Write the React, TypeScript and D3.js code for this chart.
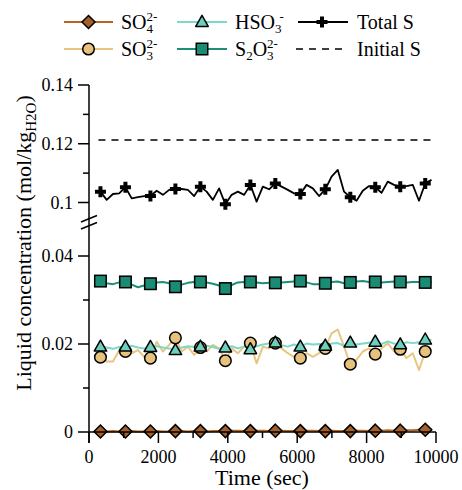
import React from "react";
import * as d3 from "d3";

// ---- data ----
const times = [
  330, 510, 690, 870, 1050, 1230, 1410, 1590, 1770, 1950, 2130, 2310, 2490, 2670,
  2850, 3030, 3210, 3390, 3570, 3750, 3930, 4110, 4290, 4470, 4650, 4830, 5010,
  5190, 5370, 5550, 5730, 5910, 6090, 6270, 6450, 6630, 6810, 6990, 7170, 7350,
  7530, 7710, 7890, 8070, 8250, 8430, 8610, 8790, 8970, 9150, 9330, 9510, 9690, 9870,
];

const totalS = [
  0.1037, 0.1009, 0.1029, 0.1031, 0.1052, 0.1014, 0.1018, 0.1022, 0.1022, 0.104,
  0.1026, 0.1043, 0.1046, 0.1046, 0.1043, 0.1022, 0.1054, 0.1037, 0.1009, 0.1048,
  0.0994, 0.1026, 0.1037, 0.1026, 0.106, 0.1003, 0.1054, 0.1045, 0.1065, 0.1054,
  0.1043, 0.1031, 0.1029, 0.106, 0.1048, 0.1022, 0.1045, 0.1088, 0.1111, 0.1037,
  0.1018, 0.1006, 0.104, 0.1056, 0.1052, 0.1033, 0.1071, 0.106, 0.1054, 0.1056,
  0.106, 0.1006, 0.1065, 0.1077,
];

const s2o3 = [
  0.0343, 0.0338, 0.0336, 0.034, 0.0341, 0.0335, 0.0329, 0.0333, 0.0337, 0.034,
  0.0341, 0.0338, 0.033, 0.0335, 0.0339, 0.0341, 0.0341, 0.034, 0.0337, 0.0333,
  0.0326, 0.0334, 0.034, 0.0341, 0.0341, 0.034, 0.0338, 0.0339, 0.0339, 0.034,
  0.0341, 0.0342, 0.0343, 0.034, 0.0336, 0.0336, 0.0338, 0.0341, 0.0342, 0.0338,
  0.034, 0.0342, 0.0343, 0.0341, 0.0341, 0.034, 0.0341, 0.0342, 0.0341, 0.034,
  0.0341, 0.0341, 0.034, 0.0341,
];

const hso3 = [
  0.0194, 0.0192, 0.0189, 0.0193, 0.0194, 0.0196, 0.0192, 0.019, 0.0193, 0.0195,
  0.0192, 0.019, 0.0186, 0.0192, 0.0195, 0.0193, 0.0194, 0.0196, 0.0193, 0.0189,
  0.0192, 0.0195, 0.019, 0.0194, 0.0188, 0.0195, 0.0199, 0.0201, 0.0203, 0.0197,
  0.0194, 0.0199, 0.0194, 0.0201, 0.0199, 0.02, 0.0196, 0.0201, 0.0202, 0.0196,
  0.0203, 0.0199, 0.0201, 0.0203, 0.0205, 0.02, 0.0206, 0.0201, 0.0199, 0.0204,
  0.0202, 0.0204, 0.021, 0.0209,
];

const so3 = [
  0.017, 0.016, 0.016, 0.0186, 0.0183, 0.0179, 0.0186, 0.0171, 0.0168, 0.0205,
  0.0183, 0.0198, 0.0214, 0.0183, 0.0194, 0.0175, 0.0192, 0.0183, 0.0198, 0.019,
  0.0162, 0.019, 0.0179, 0.0194, 0.0202, 0.0156, 0.0194, 0.019, 0.0202, 0.019,
  0.0179, 0.0171, 0.0168, 0.0179, 0.0171, 0.0179, 0.019, 0.0224, 0.0233, 0.0194,
  0.0154, 0.0164, 0.0183, 0.019, 0.0177, 0.019, 0.0202, 0.0183, 0.0188, 0.0168,
  0.0179, 0.0141, 0.0183, 0.0186,
];

const so4 = [
  0.0001, 0.0001, 0.0002, 0.0001, 0.0001, 0.0002, 0.0001, 0.0001, 0.0001, 0.0002,
  0.0001, 0.0001, 0.0002, 0.0002, 0.0001, 0.0002, 0.0002, 0.0001, 0.0002, 0.0002,
  0.0002, 0.0003, 0.0003, 0.0002, 0.0002, 0.0003, 0.0003, 0.0002, 0.0003, 0.0003,
  0.0002, 0.0002, 0.0002, 0.0003, 0.0003, 0.0002, 0.0002, 0.0003, 0.0002, 0.0002,
  0.0002, 0.0003, 0.0003, 0.0002, 0.0003, 0.0003, 0.0004, 0.0003, 0.0003, 0.0004,
  0.0004, 0.0005, 0.0005, 0.0006,
];

const initialS = 0.1213;
const markerStep = 4;

const xMajorTicks = [0, 2000, 4000, 6000, 8000, 10000];
const xMinorTicks = [1000, 3000, 5000, 7000, 9000];
const yUpperMajor = [0.1, 0.12, 0.14];
const yUpperMinor = [0.11, 0.13];
const yLowerMajor = [0, 0.02, 0.04];
const yLowerMinor = [0.01, 0.03];

const FONT = "Liberation Serif, DejaVu Serif, Times New Roman, serif";

const C = {
  so4Line: "#B8651E",
  so4Fill: "#A5602A",
  so3Line: "#E8C67F",
  so3Fill: "#E6C27C",
  hso3Line: "#7ED8C6",
  hso3Fill: "#6DCFBD",
  s2o3Line: "#1B8F77",
  s2o3Fill: "#1A8C73",
};

type Shape = "diamond" | "circle" | "triangle" | "square" | "plus";

function Marker({ shape, x, y, fill }: { shape: Shape; x: number; y: number; fill: string }) {
  const sw = 1.5;
  if (shape === "diamond") {
    const r = 6.5;
    return (
      <path d={`M${x},${y - r}L${x + r},${y}L${x},${y + r}L${x - r},${y}Z`} fill={fill} stroke="#000" strokeWidth={sw} />
    );
  }
  if (shape === "circle") return <circle cx={x} cy={y} r={5.8} fill={fill} stroke="#000" strokeWidth={sw} />;
  if (shape === "triangle") {
    const h = 11, w = 12.5;
    return (
      <path d={`M${x},${y - h * 0.6}L${x + w / 2},${y + h * 0.4}L${x - w / 2},${y + h * 0.4}Z`} fill={fill} stroke="#000" strokeWidth={sw} strokeLinejoin="round" />
    );
  }
  if (shape === "square") {
    const s = 11.5;
    return <rect x={x - s / 2} y={y - s / 2} width={s} height={s} fill={fill} stroke="#000" strokeWidth={sw} />;
  }
  const a = 5.5, t = 2;
  return (
    <path
      d={`M${x - t},${y - a}H${x + t}V${y - t}H${x + a}V${y + t}H${x + t}V${y + a}H${x - t}V${y + t}H${x - a}V${y - t}H${x - t}Z`}
      fill="#000"
    />
  );
}

export default function App() {
  const x = d3.scaleLinear().domain([0, 10000]).range([89, 436]);
  const yUp = d3.scaleLinear().domain([0.1, 0.14]).range([202.5, 85]);
  const yLo = d3.scaleLinear().domain([0, 0.04]).range([432, 256]);

  const series = [
    { vals: so4, scale: yLo, line: C.so4Line, fill: C.so4Fill, shape: "diamond" as Shape, lw: 2 },
    { vals: so3, scale: yLo, line: C.so3Line, fill: C.so3Fill, shape: "circle" as Shape, lw: 2 },
    { vals: hso3, scale: yLo, line: C.hso3Line, fill: C.hso3Fill, shape: "triangle" as Shape, lw: 2 },
    { vals: s2o3, scale: yLo, line: C.s2o3Line, fill: C.s2o3Fill, shape: "square" as Shape, lw: 2 },
    { vals: totalS, scale: yUp, line: "#000", fill: "#000", shape: "plus" as Shape, lw: 1.8 },
  ];

  const axisY0 = yLo(0);
  const axisX0 = x(0);
  const txt = { fontFamily: FONT };

  return (
    <svg width={462} height={490} style={{ position: "absolute", left: 0, top: 0, background: "#fff", fontFamily: FONT }}>
      <rect width={462} height={490} fill="#fff" />
      {/* Initial S dashed */}
      <line x1={x(330) - 2} x2={x(10000)} y1={yUp(initialS)} y2={yUp(initialS)} stroke="#000" strokeWidth={1.5} strokeDasharray="7,6" />

      {/* lines */}
      {series.map((s, i) => {
        const gen = d3
          .line<number>()
          .x((_, j) => x(times[j]))
          .y((v) => s.scale(v));
        return <path key={"l" + i} d={gen(s.vals) || ""} fill="none" stroke={s.line} strokeWidth={s.lw} strokeLinejoin="round" />;
      })}
      {/* markers */}
      {series.map((s, i) => (
        <g key={"m" + i}>
          {s.vals.map((v, j) =>
            j % markerStep === 0 ? <Marker key={j} shape={s.shape} x={x(times[j])} y={s.scale(v)} fill={s.fill} /> : null
          )}
        </g>
      ))}

      {/* axes */}
      <g stroke="#000" strokeWidth={1.5}>
        <line x1={axisX0} x2={axisX0} y1={yUp(0.14)} y2={axisY0 + 11} />
        <line x1={axisX0} x2={x(10000)} y1={axisY0} y2={axisY0} />
        {xMajorTicks.map((t) => (
          <line key={"xM" + t} x1={x(t)} x2={x(t)} y1={axisY0} y2={axisY0 + 11} />
        ))}
        {xMinorTicks.map((t) => (
          <line key={"xm" + t} x1={x(t)} x2={x(t)} y1={axisY0} y2={axisY0 + 6} />
        ))}
        {yUpperMajor.map((t) => (
          <line key={"yuM" + t} x1={axisX0 - 11} x2={axisX0} y1={yUp(t)} y2={yUp(t)} />
        ))}
        {yUpperMinor.map((t) => (
          <line key={"yum" + t} x1={axisX0 - 6} x2={axisX0} y1={yUp(t)} y2={yUp(t)} />
        ))}
        {yLowerMajor.map((t) => (
          <line key={"ylM" + t} x1={axisX0 - 11} x2={axisX0} y1={yLo(t)} y2={yLo(t)} />
        ))}
        {yLowerMinor.map((t) => (
          <line key={"ylm" + t} x1={axisX0 - 6} x2={axisX0} y1={yLo(t)} y2={yLo(t)} />
        ))}
        {/* axis break */}
        <line x1={81} y1={222} x2={97} y2={215.5} />
        <line x1={81} y1={229} x2={97} y2={222.5} />
      </g>

      {/* tick labels */}
      <g fontSize={18} fill="#000" style={txt}>
        {xMajorTicks.map((t) => (
          <text key={"xt" + t} x={x(t)} y={463} textAnchor="middle" style={txt}>
            {String(t)}
          </text>
        ))}
        {[...yUpperMajor.map((t) => ({ t, y: yUp(t) })), ...yLowerMajor.map((t) => ({ t, y: yLo(t) }))].map((d) => (
          <text key={"yt" + d.t} x={73} y={d.y} dy="0.34em" textAnchor="end" style={txt}>
            {String(d.t)}
          </text>
        ))}
      </g>

      {/* axis titles */}
      <text x={262} y={485} fontSize={22} textAnchor="middle" style={txt}>
        Time (sec)
      </text>
      <text transform="translate(31,243) rotate(-90)" fontSize={22} textAnchor="middle" style={txt}>
        Liquid concentration (mol/kg
        <tspan fontSize={15} dy={5}>H2O</tspan>
        <tspan dy={-5}>)</tspan>
      </text>

      {/* legend */}
      <g fontSize={20} style={txt}>
        <line x1={64} x2={113} y1={22} y2={22} stroke={C.so4Line} strokeWidth={2} />
        <Marker shape="diamond" x={88.5} y={22} fill={C.so4Fill} />
        <text x={121} y={29} style={txt}>
          SO<tspan fontSize={13} dy={4}>4</tspan>
          <tspan fontSize={13} dx={-6.5} dy={-12}>2-</tspan>
        </text>

        <line x1={64} x2={113} y1={49} y2={49} stroke={C.so3Line} strokeWidth={2} />
        <Marker shape="circle" x={88.5} y={49} fill={C.so3Fill} />
        <text x={121} y={56} style={txt}>
          SO<tspan fontSize={13} dy={4}>3</tspan>
          <tspan fontSize={13} dx={-6.5} dy={-12}>2-</tspan>
        </text>

        <line x1={177} x2={227} y1={22} y2={22} stroke={C.hso3Line} strokeWidth={2} />
        <Marker shape="triangle" x={202} y={22} fill={C.hso3Fill} />
        <text x={235} y={29} style={txt}>
          HSO<tspan fontSize={13} dy={4}>3</tspan>
          <tspan fontSize={13} dx={-2} dy={-12}>-</tspan>
        </text>

        <line x1={177} x2={227} y1={49} y2={49} stroke={C.s2o3Line} strokeWidth={2} />
        <Marker shape="square" x={202} y={49} fill={C.s2o3Fill} />
        <text x={235} y={56} style={txt}>
          S<tspan fontSize={13} dy={4}>2</tspan>
          <tspan dy={-4}>O</tspan>
          <tspan fontSize={13} dy={4}>3</tspan>
          <tspan fontSize={13} dx={-6.5} dy={-12}>2-</tspan>
        </text>

        <line x1={298} x2={348} y1={22} y2={22} stroke="#000" strokeWidth={2} />
        <Marker shape="plus" x={322} y={22} fill="#000" />
        <text x={357} y={29} style={txt}>Total S</text>

        <line x1={296} x2={347} y1={49} y2={49} stroke="#000" strokeWidth={1.5} strokeDasharray="7,6" />
        <text x={357} y={56} style={txt}>Initial S</text>
      </g>
    </svg>
  );
}
